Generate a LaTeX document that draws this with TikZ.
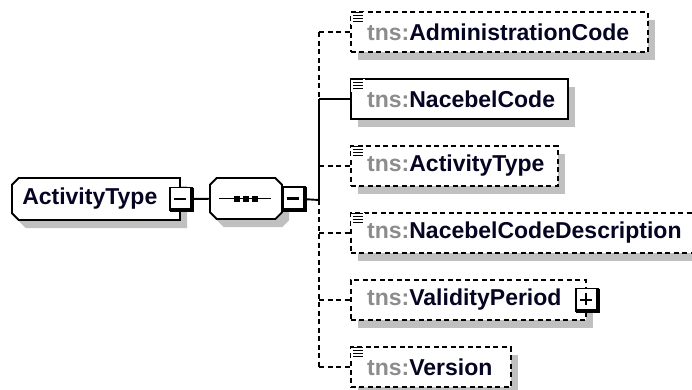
\documentclass[tikz,border=0pt]{standalone}
\usepackage{fontspec}
\setmainfont{Liberation Sans}
\usetikzlibrary{shapes.misc,positioning,calc,shadows}
\definecolor{shade}{RGB}{192,192,192}
\definecolor{nsgray}{RGB}{140,140,140}
\definecolor{namecol}{RGB}{5,5,35}

\tikzset{
  shade box/.style={drop shadow={shadow xshift=7pt, shadow yshift=-8pt, fill=shade, opacity=1}},
  elem/.style={rectangle, draw=black, line width=1.9pt, fill=white, minimum height=40pt, inner sep=0pt, anchor=west, shade box},
  optelem/.style={elem, dash pattern=on 5pt off 3.5pt},
  lbl/.style={inner sep=0pt, font=\fontsize{23}{27}\selectfont\bfseries},
  toggle/.style={rectangle, draw=black, line width=1.9pt, fill=white, minimum width=22pt, minimum height=23pt, inner sep=0pt},
  wire/.style={line width=1.9pt},
  optwire/.style={wire, dash pattern=on 5pt off 3.5pt},
}
\newcommand{\tns}[1]{{\color{nsgray}tns:}{\color{namecol}#1}}

\begin{document}
\begin{tikzpicture}[x=1pt, y=-1pt]
\useasboundingbox (0,0) rectangle (692,389);
% Root element
\node[chamfered rectangle, chamfered rectangle corners={north west,south west}, chamfered rectangle xsep=10pt,
      draw, line width=1.9pt, fill=white, minimum width=168pt, minimum height=42pt, shade box] (root) at (96,199) {};
\node[lbl, right=11pt of root.west] {\color{namecol}ActivityType};
% Sequence
\node[chamfered rectangle, chamfered rectangle xsep=10pt,
      draw, line width=1.9pt, fill=white, minimum width=72pt, minimum height=41pt, shade box] (seq) at (246,198.5) {};
\draw[line width=1.9pt] ([xshift=10pt]seq.west) -- ([xshift=-12pt]seq.east);
\foreach \dx in {-9,0,9}
  \fill ([xshift=\dx pt]seq.center) +(-3,-3) rectangle +(3,3);
% Toggles
\node[toggle] (rootmin) at (root.east) {};
\node[toggle, right=0pt of seq.east, xshift=-1pt] (seqmin) {};
\foreach \tg in {rootmin,seqmin} {
  \draw[line width=4pt] ([xshift=-1pt,yshift=-1pt]\tg.north east) -- ([xshift=-1pt,yshift=1pt]\tg.south east) -- ([xshift=1pt,yshift=1pt]\tg.south west);
  \draw[line width=2.2pt] ([xshift=5pt]\tg.west) -- ([xshift=-7pt]\tg.east);
}
% Children
\node[optelem, minimum width=297pt] (admin) at (350,32) {};
\node[elem, minimum width=217pt] (nace) at (350,99) {};
\node[optelem, minimum width=207pt] (acttype) at (350,166) {};
\node[optelem, minimum width=380pt] (descr) at (350,233) {};
\node[optelem, minimum width=235pt] (valid) at (350,300) {};
\node[optelem, minimum width=160pt] (version) at (350,367) {};

\node[lbl, right=17pt of admin.west] {\tns{AdministrationCode}};
\node[lbl, right=17pt of nace.west] {\tns{NacebelCode}};
\node[lbl, right=17pt of acttype.west] {\tns{ActivityType}};
\node[lbl, right=17pt of descr.west] {\tns{NacebelCodeDescription}};
\node[lbl, right=17pt of valid.west] {\tns{ValidityPeriod}};
\node[lbl, right=17pt of version.west] {\tns{Version}};

% Simple type icons
\foreach \n in {admin,nace,acttype,descr,version} {
  \fill[white] ([xshift=1pt,yshift=-1pt]\n.north west) rectangle +(14,13);
  \foreach \k/\s in {1.5/1,4.5/3,7.5/3,10.5/3}
    \draw[line width=1.7pt] ([xshift=\s pt,yshift=-\k pt]\n.north west) -- ([xshift=13pt,yshift=-\k pt]\n.north west);
}
% Complex type toggle
\node[toggle] (validplus) at (valid.east) {};
\draw[line width=4pt] ([xshift=-1pt,yshift=-1pt]validplus.north east) -- ([xshift=-1pt,yshift=1pt]validplus.south east) -- ([xshift=1pt,yshift=1pt]validplus.south west);
\draw[line width=2.2pt] ([xshift=5pt]validplus.west) -- ([xshift=-7pt]validplus.east)
  ([xshift=-1pt,yshift=-5pt]validplus.north) -- ([xshift=-1pt,yshift=7pt]validplus.south);

% Connectors
\coordinate (fork) at (319,200);
\draw[wire] (rootmin) -- (seq);
\draw[wire] (seqmin) -- (fork);
\draw[optwire] (fork |- admin.west) -- (fork |- nace.west);
\draw[wire] (fork |- nace.west) -- (fork);
\draw[optwire] (fork) -- (fork |- version.west);
\draw[wire] (fork |- nace.west) -- (nace.west);
\foreach \n in {admin,acttype,descr,valid,version}
  \draw[optwire] (fork |- \n.west) -- (\n.west);
\end{tikzpicture}
\end{document}
